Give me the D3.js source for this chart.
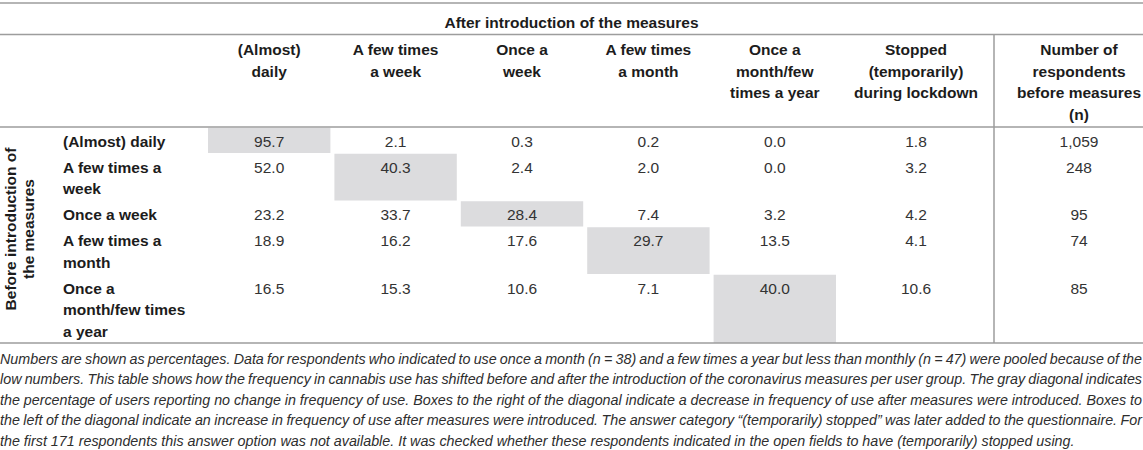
<!DOCTYPE html>
<html>
<head>
<meta charset="utf-8">
<script src="https://cdn.jsdelivr.net/npm/d3@7"></script>
<style>
  html, body { margin: 0; padding: 0; background: #fff; }
  svg { display: block; font-family: "Liberation Sans", Arial, Helvetica, sans-serif; }
</style>
</head>
<body>
<div id="chart"></div>
<script>
const spanner = "After introduction of the measures";
const rowSpanner = ["Before introduction of", "the measures"];
const afterLabels = [
  ["(Almost)", "daily"],
  ["A few times", "a week"],
  ["Once a", "week"],
  ["A few times", "a month"],
  ["Once a", "month/few", "times a year"],
  ["Stopped", "(temporarily)", "during lockdown"]
];
const nLabel = ["Number of", "respondents", "before measures", "(n)"];
const beforeLabels = [
  ["(Almost) daily"],
  ["A few times a", "week"],
  ["Once a week"],
  ["A few times a", "month"],
  ["Once a", "month/few times", "a year"]
];
// percentages: row = before, column = after
const shares = [
  [95.7, 2.1, 0.3, 0.2, 0.0, 1.8],
  [52.0, 40.3, 2.4, 2.0, 0.0, 3.2],
  [23.2, 33.7, 28.4, 7.4, 3.2, 4.2],
  [18.9, 16.2, 17.6, 29.7, 13.5, 4.1],
  [16.5, 15.3, 10.6, 7.1, 40.0, 10.6]
];
const respondents = [1059, 248, 95, 74, 85];
const notes = [
  "Numbers are shown as percentages. Data for respondents who indicated to use once a month (n = 38) and a few times a year but less than monthly (n = 47) were pooled because of the",
  "low numbers. This table shows how the frequency in cannabis use has shifted before and after the introduction of the coronavirus measures per user group. The gray diagonal indicates",
  "the percentage of users reporting no change in frequency of use. Boxes to the right of the diagonal indicate a decrease in frequency of use after measures were introduced. Boxes to",
  "the left of the diagonal indicate an increase in frequency of use after measures were introduced. The answer category \u201c(temporarily) stopped\u201d was later added to the questionnaire. For",
  "the first 171 respondents this answer option was not available. It was checked whether these respondents indicated in the open fields to have (temporarily) stopped using."
];

// ---- layout ----
const W = 1143, H = 450;
const RULE = "#9d9d9d", INK = "#1c1c1c", VAL = "#333333", DIAG = "#dcdcde";
const FS = 15.5, LH = 21.5;
const fmtPct = d3.format(".1f"), fmtN = d3.format(",");

const svg = d3.select("#chart").append("svg")
  .attr("width", W).attr("height", H)
  .attr("viewBox", `0 0 ${W} ${H}`);

const headTop = 34.5, bodyTop = 127;

// the five frequency columns share one band scale; "stopped" and n are wider
const x = d3.scaleBand().domain(d3.range(5)).range([206, 838]);
const colSpan = i => i < 5 ? [x(i), x(i) + x.bandwidth()] : (i === 5 ? [838, 994] : [994, 1164]);
const colMid = i => d3.mean(colSpan(i));

// row tops from the number of label lines
const rows = [];
let rowTop = bodyTop;
beforeLabels.forEach((lab, i) => {
  const h = 26 + LH * (lab.length - 1);
  rows.push({ i, top: rowTop, h, lab });
  rowTop += h;
});
const bodyBottom = rowTop;

// diagonal boxes (no change)
svg.append("g").selectAll("rect").data(rows).join("rect")
  .attr("x", d => x(d.i) + 2)
  .attr("width", x.bandwidth() - 4)
  .attr("y", d => d.top + 0.75)
  .attr("height", d => d.h - 0.75)
  .attr("fill", DIAG);

// rules
const hl = [3, headTop, bodyTop, bodyBottom];
svg.append("g").selectAll("line").data(hl).join("line")
  .attr("x1", 0).attr("x2", W).attr("y1", d => d).attr("y2", d => d)
  .attr("stroke", RULE).attr("stroke-width", 1.5);
svg.append("line")
  .attr("x1", 994).attr("x2", 994).attr("y1", headTop).attr("y2", bodyBottom)
  .attr("stroke", RULE).attr("stroke-width", 1.5);

// spanner heading
svg.append("text")
  .attr("x", W / 2).attr("y", 27.5)
  .attr("text-anchor", "middle")
  .attr("font-size", FS).attr("font-weight", "bold").attr("fill", INK)
  .text(spanner);

// column headings
const heads = afterLabels.concat([nLabel]);
const hg = svg.append("g").attr("font-size", FS).attr("font-weight", "bold")
  .attr("fill", INK).attr("text-anchor", "middle");
heads.forEach((lines, c) => {
  hg.append("text").selectAll("tspan").data(lines).join("tspan")
    .attr("x", colMid(c))
    .attr("y", (_, k) => headTop + 20.5 + k * LH)
    .text(d => d);
});

// rotated row spanner
const rg = svg.append("g").attr("font-size", FS).attr("font-weight", "bold").attr("fill", INK);
rowSpanner.forEach((t, k) => {
  rg.append("text")
    .attr("transform", `translate(${15.5 + k * 18},229) rotate(-90)`)
    .attr("text-anchor", "middle")
    .text(t);
});

// row labels
const lg = svg.append("g").attr("font-size", FS).attr("font-weight", "bold").attr("fill", INK);
rows.forEach(r => {
  lg.append("text").selectAll("tspan").data(r.lab).join("tspan")
    .attr("x", 63)
    .attr("y", (_, k) => r.top + 19.5 + k * LH)
    .text(d => d);
});

// cell values
const vg = svg.append("g").attr("font-size", FS).attr("fill", VAL).attr("text-anchor", "middle");
rows.forEach(r => {
  const cells = shares[r.i].map((v, c) => ({ c, t: fmtPct(v) }))
    .concat([{ c: 6, t: fmtN(respondents[r.i]) }]);
  vg.append("g").selectAll("text").data(cells).join("text")
    .attr("x", d => colMid(d.c))
    .attr("y", r.top + 19.5)
    .text(d => d.t);
});

// footnote, justified line by line
const ng = svg.append("g").attr("font-style", "italic").attr("fill", "#2e2e2e");
const probe = ng.append("text").attr("font-size", 13).text(notes[notes.length - 1]);
const capFS = 13 * 1075 / probe.node().getComputedTextLength();
probe.remove();
ng.attr("font-size", capFS);
notes.forEach((line, k) => {
  const y = 363.5 + k * 20.6;
  if (k === notes.length - 1) {
    ng.append("text").attr("x", 0).attr("y", y).text(line);
    return;
  }
  const words = line.split(" ");
  const t = ng.append("text").attr("y", y);
  const spans = t.selectAll("tspan").data(words).join("tspan").text(d => d);
  const widths = spans.nodes().map(n => n.getComputedTextLength());
  const gap = (W - 1 - d3.sum(widths)) / (words.length - 1);
  let cx = 0;
  spans.attr("x", (_, j) => { const p = cx; cx += widths[j] + gap; return p; });
});
</script>
</body>
</html>
